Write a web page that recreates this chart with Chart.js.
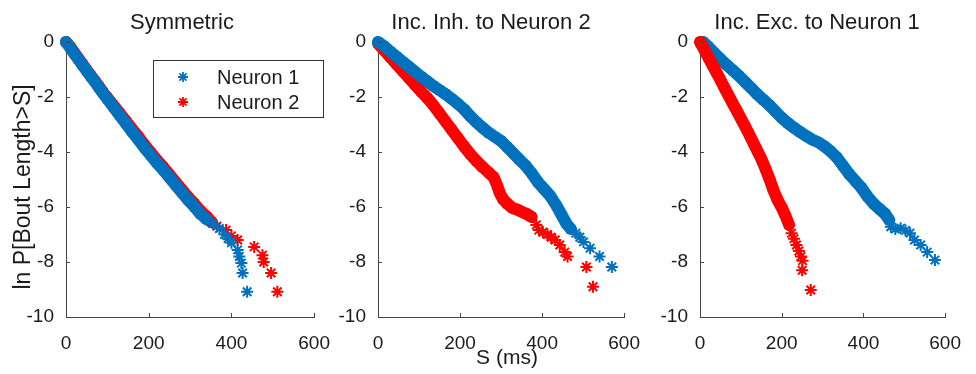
<!DOCTYPE html>
<html>
<head>
<meta charset="utf-8">
<script src="https://cdn.jsdelivr.net/npm/chart.js@4.4.0/dist/chart.umd.min.js"></script>
<style>
  body { margin: 0; background: #fff; }
  #wrap { position: relative; width: 976px; height: 374px; overflow: hidden; background: #fff; }
  canvas { position: absolute; top: 0; }
</style>
</head>
<body>
<div id="wrap">
  <canvas id="p1" width="345" height="374" style="left:0px"></canvas>
  <canvas id="p2" width="330" height="374" style="left:325px"></canvas>
  <canvas id="p3" width="331" height="374" style="left:645px"></canvas>
</div>
<script>
// axis ticks and labels
const sTicks = [0, 200, 400, 600];
const lnTicks = [0, -2, -4, -6, -8, -10];
const panelTitles = ['Symmetric', 'Inc. Inh. to Neuron 2', 'Inc. Exc. to Neuron 1'];
const seriesNames = ['Neuron 1', 'Neuron 2'];

// Symmetric
const symN1S = [0, 10, 20, 30, 40, 50, 60, 70, 80, 90, 100, 115, 130, 145, 160, 175, 190, 205, 220, 235, 250, 265, 280, 295, 311, 325, 340,
  355, 371, 383, 392, 400, 415, 419, 424, 427, 438];
const symN1P = [0, -0.2, -0.42, -0.63, -0.84, -1.05, -1.25, -1.45, -1.66, -1.87, -2.07, -2.37, -2.67, -2.97, -3.27, -3.55, -3.85, -4.12, -4.4, -4.65, -4.92, -5.2, -5.47, -5.74, -6.0, -6.25, -6.45,
  -6.6, -6.78, -7.0, -7.15, -7.3, -7.56, -7.8, -8.04, -8.4, -9.08];
const symN2S = [0, 10, 20, 30, 40, 50, 60, 70, 80, 90, 100, 115, 130, 145, 160, 175, 190, 205, 220, 235, 250, 265, 280, 295, 310, 325, 340, 352,
  365, 387, 400, 415, 455, 475, 478, 496, 511];
const symN2P = [0, -0.17, -0.39, -0.6, -0.81, -1.02, -1.22, -1.42, -1.63, -1.84, -2.03, -2.31, -2.59, -2.88, -3.17, -3.45, -3.75, -4.02, -4.3, -4.55, -4.82, -5.1, -5.37, -5.64, -5.88, -6.14, -6.35, -6.55,
  -6.7, -6.84, -7.05, -7.2, -7.45, -7.75, -8.0, -8.4, -9.08];

// Inc. Inh. to Neuron 2
const inhN1S = [0, 15, 30, 45, 60, 75, 90, 105, 120, 135, 150, 165, 180, 195, 210, 225, 240, 255, 270, 285, 300, 315, 330, 345, 360, 375, 390, 405, 420, 435, 448, 459, 470,
  482, 492, 501, 517, 540, 570];
const inhN1P = [0, -0.15, -0.35, -0.53, -0.72, -0.9, -1.08, -1.26, -1.43, -1.6, -1.75, -1.9, -2.07, -2.25, -2.45, -2.7, -2.92, -3.12, -3.3, -3.45, -3.6, -3.82, -4.05, -4.28, -4.5, -4.78, -5.1, -5.35, -5.6, -5.95, -6.3, -6.6, -6.8,
  -6.95, -7.1, -7.27, -7.5, -7.8, -8.18];
const inhN2S = [0, 15, 30, 45, 60, 75, 90, 105, 120, 135, 150, 165, 180, 195, 210, 225, 240, 255, 270, 282, 290, 297, 305, 315, 328, 340, 351, 362, 374,
  386, 392, 402, 413, 422, 432, 443, 455, 462, 508, 524];
const inhN2P = [-0.05, -0.3, -0.55, -0.8, -1.05, -1.3, -1.55, -1.8, -2.03, -2.3, -2.6, -2.9, -3.2, -3.5, -3.8, -4.08, -4.33, -4.55, -4.75, -4.92, -5.2, -5.5, -5.72, -5.88, -6.04, -6.1, -6.18, -6.25, -6.36,
  -6.65, -6.84, -6.92, -7.0, -7.1, -7.2, -7.38, -7.64, -7.8, -8.18, -8.9];

// Inc. Exc. to Neuron 1
const excN1S = [8, 20, 35, 50, 65, 80, 95, 110, 125, 140, 155, 170, 185, 200, 215, 230, 245, 260, 275, 290, 305, 320, 335, 350, 365, 380, 395, 410, 425, 440, 453, 463,
  467, 478, 491, 503, 514, 525, 540, 556, 575];
const excN1P = [0, -0.17, -0.4, -0.62, -0.83, -1.03, -1.23, -1.45, -1.67, -1.9, -2.1, -2.3, -2.53, -2.76, -2.95, -3.12, -3.27, -3.42, -3.55, -3.65, -3.8, -3.98, -4.2, -4.5, -4.8, -5.05, -5.3, -5.62, -5.88, -6.08, -6.25, -6.47,
  -6.72, -6.8, -6.77, -6.85, -6.95, -7.2, -7.38, -7.64, -7.93];
const excN2S = [0, 10, 20, 30, 40, 50, 60, 70, 80, 90, 100, 110, 120, 130, 140, 150, 160, 170, 180, 190, 200, 210, 218,
  224, 230, 236, 242, 247, 251, 250, 271];
const excN2P = [0, -0.27, -0.55, -0.83, -1.1, -1.38, -1.67, -1.95, -2.23, -2.5, -2.78, -3.06, -3.35, -3.65, -3.95, -4.25, -4.6, -4.98, -5.4, -5.75, -6.02, -6.35, -6.65,
  -6.95, -7.15, -7.38, -7.6, -7.8, -7.95, -8.3, -9.02];

const BLUE = '#0072BD';
const RED = '#FF0000';
const AXIS = '#444444';
const TXT = '#1a1a1a';
const FONT = '"Liberation Sans", Arial, Helvetica, sans-serif';

function pts(s, p) {
  return s.map((x, i) => ({ x: x, y: p[i] }));
}

// the first `dense` points sit so close that they merge into a solid band
function series(label, s, p, dense, color, order) {
  return {
    label: label,
    data: pts(s, p),
    showLine: true,
    borderColor: color,
    borderWidth: 12,
    borderCapStyle: 'round',
    borderJoinStyle: 'round',
    pointStyle: 'star',
    pointRadius: 6,
    pointBorderWidth: 2,
    pointBorderColor: color,
    pointBackgroundColor: color,
    segment: {
      borderColor: ctx => (ctx.p1DataIndex >= dense ? 'rgba(0,0,0,0)' : undefined),
    },
    clip: false,
    order: order,
  };
}

const decor = {
  id: 'decor',
  afterDraw(chart, args, o) {
    const ctx = chart.ctx;
    const a = chart.chartArea;
    const xs = chart.scales.x;
    const ys = chart.scales.y;
    ctx.save();

    // tick marks pointing into the plot
    ctx.strokeStyle = AXIS;
    ctx.lineWidth = 1;
    ctx.beginPath();
    sTicks.forEach(v => {
      const px = Math.round(xs.getPixelForValue(v)) + 0.5;
      ctx.moveTo(px, a.bottom);
      ctx.lineTo(px, a.bottom - 4);
    });
    lnTicks.forEach(v => {
      const py = Math.round(ys.getPixelForValue(v)) + 0.5;
      ctx.moveTo(a.left, py);
      ctx.lineTo(a.left + 4, py);
    });
    ctx.stroke();

    ctx.fillStyle = TXT;
    ctx.textBaseline = 'alphabetic';
    ctx.textAlign = 'center';
    ctx.font = '22px ' + FONT;
    ctx.fillText(o.title, o.titleX, 29);

    if (o.xlabel) {
      ctx.font = '21px ' + FONT;
      ctx.fillText(o.xlabel, o.xlabelX, 364);
    }

    if (o.ylabel) {
      ctx.save();
      ctx.translate(30, 187);
      ctx.rotate(-Math.PI / 2);
      ctx.font = '23px ' + FONT;
      ctx.fillText(o.ylabel, 0, 0);
      ctx.restore();
    }

    if (o.box) {
      const b = o.box;
      ctx.fillStyle = '#fff';
      ctx.fillRect(b.x, b.y, b.w, b.h);
      ctx.strokeStyle = '#333';
      ctx.lineWidth = 1;
      ctx.strokeRect(b.x + 0.5, b.y + 0.5, b.w, b.h);
      chart.data.datasets.forEach((ds, i) => {
        const cy = b.y + 17 + i * 25;
        ctx.strokeStyle = ds.borderColor;
        ctx.fillStyle = ds.borderColor;
        ctx.lineWidth = 1.8;
        Chart.helpers.drawPoint(ctx, { pointStyle: 'star', radius: 5, borderWidth: 1.8 }, b.x + 30, cy);
        ctx.fillStyle = TXT;
        ctx.textAlign = 'left';
        ctx.textBaseline = 'middle';
        ctx.font = '20px ' + FONT;
        ctx.fillText(ds.label, b.x + 64, cy + 1);
      });
    }
    ctx.restore();
  },
};

function makePanel(id, datasets, yWidth, padRight, deco) {
  new Chart(document.getElementById(id), {
    type: 'scatter',
    data: { datasets: datasets },
    options: {
      responsive: false,
      animation: false,
      events: [],
      layout: { autoPadding: false, padding: { left: 0, top: 42, right: padRight, bottom: 0 } },
      plugins: { legend: { display: false }, tooltip: { enabled: false }, decor: deco },
      scales: {
        x: {
          type: 'linear', min: 0, max: 600,
          afterBuildTicks: s => { s.ticks = sTicks.map(v => ({ value: v })); },
          afterFit: s => { s.height = 57; },
          grid: { display: false, drawTicks: false },
          border: { display: true, color: AXIS, width: 1 },
          ticks: { color: TXT, font: { family: FONT, size: 19 }, padding: 15, maxRotation: 0, autoSkip: false, callback: v => String(v) },
        },
        y: {
          type: 'linear', min: -10, max: 0,
          afterBuildTicks: s => { s.ticks = lnTicks.map(v => ({ value: v })); },
          afterFit: s => { s.width = yWidth; },
          grid: { display: false, drawTicks: false },
          border: { display: true, color: AXIS, width: 1 },
          ticks: { color: TXT, font: { family: FONT, size: 19 }, padding: 12, autoSkip: false, callback: v => String(v) },
        },
      },
    },
    plugins: [decor],
  });
}

makePanel('p1', [
  series(seriesNames[0], symN1S, symN1P, 27, BLUE, 0),
  series(seriesNames[1], symN2S, symN2P, 28, RED, 1),
], 66, 30, {
  title: panelTitles[0], titleX: 182,
  ylabel: 'ln P[Bout Length>S]',
  box: { x: 153, y: 60, w: 170, h: 57 },
});

makePanel('p2', [
  series(seriesNames[0], inhN1S, inhN1P, 33, BLUE, 0),
  series(seriesNames[1], inhN2S, inhN2P, 29, RED, 1),
], 53, 17, {
  title: panelTitles[1], titleX: 166,
  xlabel: 'S (ms)', xlabelX: 182,
});

makePanel('p3', [
  series(seriesNames[0], excN1S, excN1P, 32, BLUE, 1),
  series(seriesNames[1], excN2S, excN2P, 23, RED, 0),
], 55, 17, {
  title: panelTitles[2], titleX: 172,
});
</script>
</body>
</html>
